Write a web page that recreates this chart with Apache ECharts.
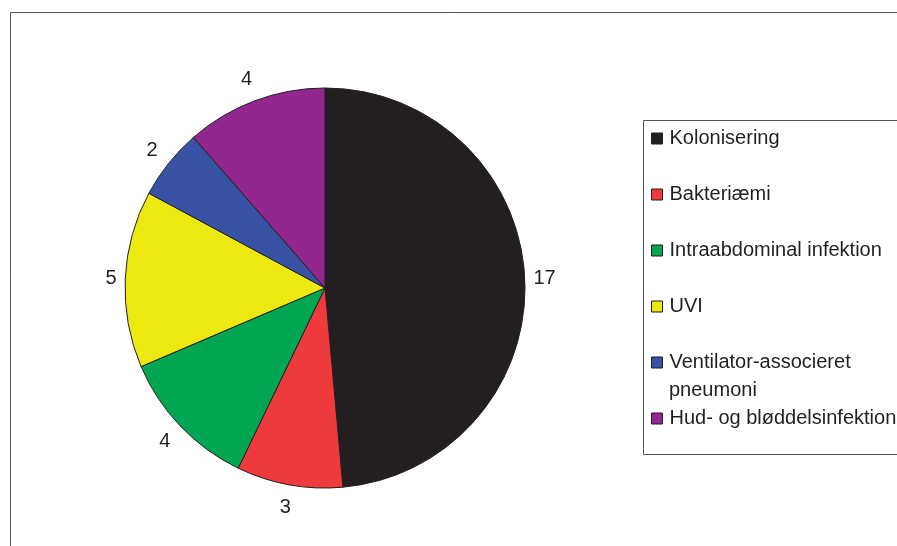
<!DOCTYPE html>
<html>
<head>
<meta charset="utf-8">
<script src="https://cdn.jsdelivr.net/npm/echarts@6/dist/echarts.min.js"></script>
<style>
  html, body { margin: 0; padding: 0; background: #fff; }
  #chart { width: 897px; height: 546px; }
</style>
</head>
<body>
<div id="chart"></div>
<script>
// data
var categories = ['Kolonisering', 'Bakteriæmi', 'Intraabdominal infektion', 'UVI', 'Ventilator-associeret pneumoni', 'Hud- og bløddelsinfektion'];
var values = [17, 3, 4, 5, 2, 4];
var colors = ['#231f20', '#ee3a3d', '#00a651', '#eee811', '#3953a4', '#92278f'];

var chart = echarts.init(document.getElementById('chart'));

var cx = 325, cy = 288, R = 200;
var fontFam = 'Liberation Sans, Arial, sans-serif';

var pieData = [];
var total = 0;
for (var i = 0; i < values.length; i++) total += values[i];
// mid angle of each slice (radians, clockwise from 12 o'clock)
var midAngles = [];
var acc = 0;
for (var i = 0; i < categories.length; i++) {
    pieData.push({ name: categories[i], value: values[i], itemStyle: { color: colors[i] } });
    midAngles.push((acc + values[i] / 2) / total * Math.PI * 2);
    acc += values[i];
}

option = {
    animation: false,
    textStyle: { fontFamily: fontFam },
    graphic: [
        // outer frame (runs off the right/bottom edge)
        { type: 'rect', shape: { x: 10.5, y: 12.5, width: 900, height: 600 },
          style: { fill: null, stroke: '#555', lineWidth: 1 }, z: -10 },
        // legend box
        { type: 'rect', shape: { x: 643.5, y: 120.5, width: 260, height: 334 },
          style: { fill: '#fff', stroke: '#555', lineWidth: 1 }, z: -5 },
        // second line of the wrapped legend entry
        { type: 'text', x: 669, y: 390,
          style: { text: 'pneumoni', fontSize: 20, fontFamily: fontFam, fill: '#231f20', verticalAlign: 'middle' } }
    ],
    legend: {
        orient: 'vertical',
        left: 651,
        top: 125,
        padding: 0,
        itemWidth: 11,
        itemHeight: 11,
        itemGap: 29,
        icon: 'rect',
        itemStyle: { borderColor: '#231f20', borderWidth: 1 },
        textStyle: {
            fontSize: 20,
            color: '#231f20',
            fontFamily: fontFam,
            lineHeight: 27,
            padding: [0, 0, 0, 2]
        },
        formatter: function (name) {
            return name === 'Ventilator-associeret pneumoni' ? 'Ventilator-associeret' : name;
        },
        selectedMode: false
    },
    series: [
        {
            type: 'pie',
            center: [cx, cy],
            radius: [0, R],
            startAngle: 90,
            clockwise: true,
            data: pieData,
            itemStyle: { borderColor: '#231f20', borderWidth: 1 },
            label: {
                show: true,
                position: 'outside',
                formatter: '{c}',
                fontSize: 20,
                color: '#231f20',
                fontFamily: fontFam
            },
            labelLine: { show: false },
            labelLayout: function (params) {
                var a = midAngles[params.dataIndex];
                var s = Math.sin(a), c = Math.cos(a);
                var r = R + 8 + Math.abs(s) * params.labelRect.width / 2 + Math.abs(c) * (params.labelRect.height / 2 + 4);
                return {
                    x: cx + r * s,
                    y: cy - r * c,
                    align: 'center',
                    verticalAlign: 'middle'
                };
            },
            emphasis: { disabled: true }
        }
    ]
};

chart.setOption(option);
</script>
</body>
</html>
